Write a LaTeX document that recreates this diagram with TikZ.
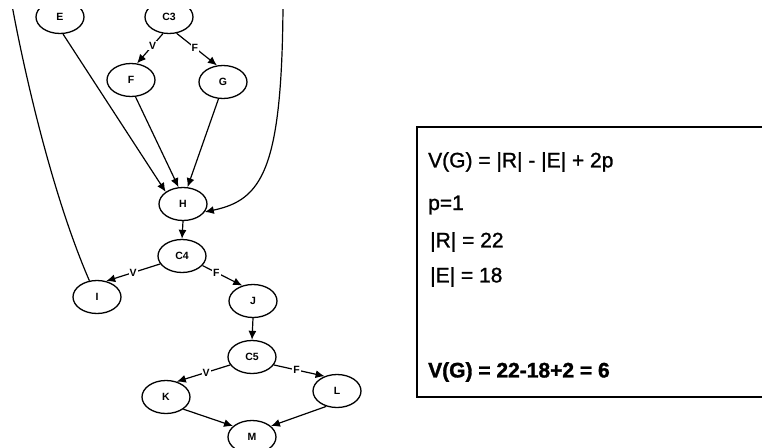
\documentclass[tikz,border=0pt]{standalone}
\usepackage{fontspec}
\setmainfont{Liberation Sans}
\newfontfamily\semib[FakeBold=1.2]{Liberation Sans}
\newfontfamily\heavyb[FakeBold=1.5]{Liberation Sans Bold}
\usetikzlibrary{shapes.geometric,arrows.meta}
\tikzset{
  nd/.style={ellipse, draw, line width=1.3pt, minimum width=48pt, minimum height=33pt, inner sep=0pt, font=\bfseries\fontsize{10.5}{10.5}\selectfont},
  edge/.style={line width=1.2pt, -{Latex[length=9pt,width=8pt]}},
  plain/.style={line width=1.2pt},
  lab/.style={font=\bfseries\fontsize{10.5}{10.5}\selectfont, inner sep=1pt, fill=white},
  txt/.style={anchor=west, inner sep=0pt, font=\semib\fontsize{21}{21}\selectfont}
}
\begin{document}
\begin{tikzpicture}[x=1pt,y=-1pt]
\useasboundingbox (0,0) rectangle (762,447);
\begin{scope}
\clip (0,9) rectangle (762,447);
% nodes
\node[nd] (E) at (60,17) {E};
\node[nd] (C3) at (169,17) {C3};
\node[nd] (F) at (131,80) {F};
\node[nd] (G) at (223,82) {G};
\node[nd] (H) at (183,204) {H};
\node[nd] (C4) at (182,256) {C4};
\node[nd] (I) at (97,297) {I};
\node[nd] (J) at (253,301) {J};
\node[nd] (C5) at (252,357) {C5};
\node[nd] (K) at (166,397) {K};
\node[nd] (L) at (337,391) {L};
\node[nd] (M) at (252,437) {M};
\coordinate (topL) at (12,5);
\coordinate (topR) at (283,5);
% edges
\draw[edge] (E.-80) -- (H.145);
\draw[edge] (C3.-110) -- node[lab, pos=0.4] {V} (F.70);
\draw[edge] (C3.-65) -- node[lab, pos=0.45] {F} (G.110);
\draw[edge] (F.-75) -- (H.105);
\draw[edge] (G.-105) -- (H.75);
\draw[edge] (topR) .. controls (282,170) and (262,200) .. (H.-20);
\draw[edge] (H.south) -- (C4.north);
\draw[edge] (C4.200) -- node[lab, pos=0.5] {V} (I.60);
\draw[edge] (C4.-25) -- node[lab, pos=0.35] {F} (J.125);
\draw[edge] (J.south) -- (C5.north);
\draw[edge] (C5.200) -- node[lab, pos=0.45] {V} (K.55);
\draw[edge] (C5.-20) -- node[lab, pos=0.45] {F} (L.130);
\draw[edge] (K.-35) -- (M.150);
\draw[edge] (L.-125) -- (M.30);
\draw[plain] (I.115) .. controls (50,190) and (22,60) .. (topL);
\end{scope}
% formula box
\begin{scope}
\clip (0,0) rectangle (762,447);
\draw[line width=1.2pt] (780,127) -- (417,127) -- (417,397) -- (780,397);
\end{scope}
\node[txt] (t1) at (428,162) {V(G) = |R| - |E| + 2p};
\node[txt] (t2) at (428,205) {p=1};
\node[txt] (t3) at (430,242) {|R| = 22};
\node[txt] (t4) at (430,277) {|E| = 18};
\node[txt, font=\heavyb\fontsize{21}{21}\selectfont] (t5) at (428,372) {V(G) = 22-18+2 = 6};
\end{tikzpicture}
\end{document}
